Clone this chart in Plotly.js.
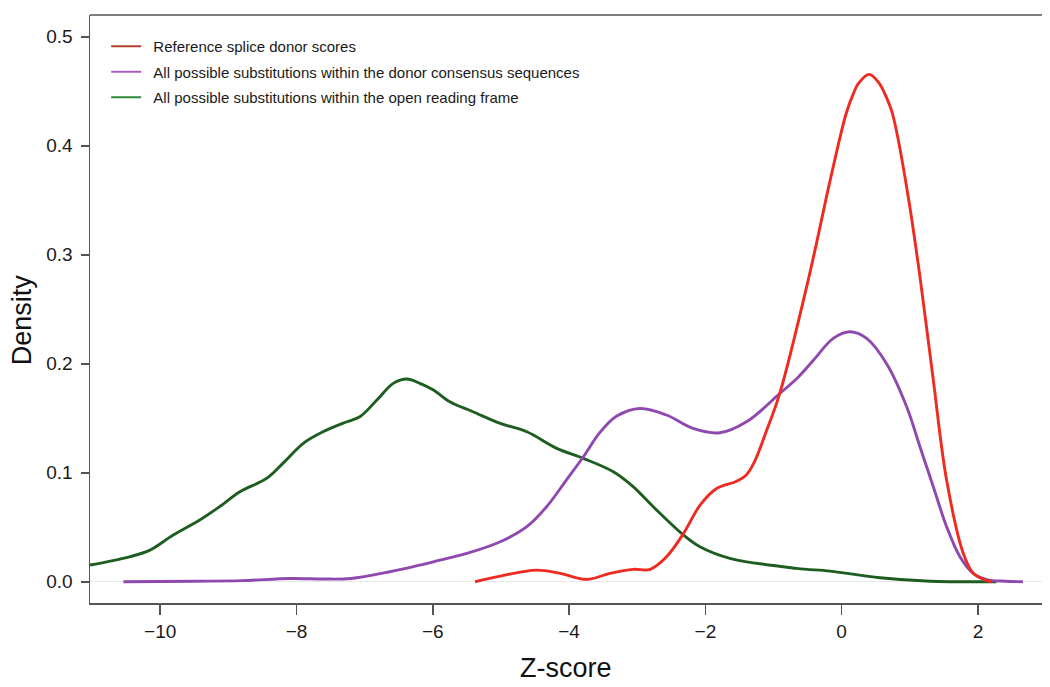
<!DOCTYPE html>
<html>
<head>
<meta charset="utf-8">
<script src="https://cdn.plot.ly/plotly-3.0.1.min.js"></script>
<style>html,body{margin:0;padding:0;background:#fff;}#chart{width:1050px;height:687px;}</style>
</head>
<body>
<div id="chart"></div>
<script>
// Series names
const seriesNames = [
  "Reference splice donor scores",
  "All possible substitutions within the donor consensus sequences",
  "All possible substitutions within the open reading frame"
];

// Reference splice donor scores (red)
const refX = [-5.38, -5.01, -4.48, -4.13, -3.74, -3.40, -3.06, -2.81, -2.57, -2.32, -2.08, -1.83, -1.55, -1.40, -1.28, -1.10, -0.908, -0.49, -0.17, 0.0, 0.073, 0.166, 0.25, 0.405, 0.55, 0.66, 0.734, 0.81, 0.98, 1.149, 1.345, 1.54, 1.785, 1.93, 2.13, 2.2];
const refY = [0.0, 0.0052, 0.0107, 0.0077, 0.0022, 0.0077, 0.0114, 0.0114, 0.0229, 0.0444, 0.070, 0.0857, 0.092, 0.098, 0.110, 0.139, 0.1728, 0.277, 0.368, 0.414, 0.431, 0.447, 0.4575, 0.4655, 0.4575, 0.444, 0.432, 0.412, 0.352, 0.28, 0.185, 0.0933, 0.026, 0.0077, 0.001, 0.0];

// All possible substitutions within the donor consensus sequences (purple)
const donorX = [-10.54, -9.5, -8.8, -8.10, -7.6, -7.2, -6.63, -6.19, -5.99, -5.50, -5.01, -4.62, -4.33, -4.04, -3.79, -3.547, -3.30, -2.96, -2.57, -2.18, -1.79, -1.39, -0.906, -0.65, -0.417, -0.123, 0.122, 0.367, 0.66, 0.954, 1.149, 1.345, 1.54, 1.736, 1.93, 2.13, 2.4, 2.66];
const donorY = [0.0, 0.0005, 0.001, 0.003, 0.0025, 0.003, 0.0092, 0.0153, 0.0183, 0.026, 0.0367, 0.0505, 0.0688, 0.0933, 0.1147, 0.137, 0.152, 0.159, 0.153, 0.1407, 0.1367, 0.147, 0.1728, 0.187, 0.203, 0.2233, 0.2294, 0.2233, 0.2, 0.1606, 0.1239, 0.0872, 0.0505, 0.0229, 0.0077, 0.002, 0.0005, 0.0];

// All possible substitutions within the open reading frame (green)
const orfX = [-11.03, -10.45, -10.15, -9.81, -9.42, -9.13, -8.83, -8.44, -8.20, -7.90, -7.61, -7.26, -7.07, -6.82, -6.58, -6.38, -6.19, -5.99, -5.75, -5.41, -5.01, -4.62, -4.18, -3.79, -3.35, -3.06, -2.765, -2.32, -2.08, -1.64, -0.66, -0.17, 0.56, 1.3, 2.27];
const orfY = [0.0153, 0.0229, 0.029, 0.0428, 0.0566, 0.0688, 0.0826, 0.0948, 0.1086, 0.127, 0.1376, 0.1468, 0.1514, 0.1667, 0.182, 0.186, 0.182, 0.1759, 0.1651, 0.156, 0.1453, 0.1376, 0.1224, 0.1132, 0.1009, 0.0872, 0.0688, 0.0428, 0.0321, 0.0215, 0.0123, 0.0098, 0.0037, 0.0005, 0.0];

// Tick labels
const xTicks = [-10, -8, -6, -4, -2, 0, 2];
const yTicks = [0.0, 0.1, 0.2, 0.3, 0.4, 0.5];

const curveColors = ['#ee2b20', '#8f48b0', '#1d5e20'];
const legendColors = ['#b3402f', '#a661c2', '#2f8a3a'];

const FONT = '"Liberation Sans", Arial, sans-serif';

const xs = [refX, donorX, orfX];
const ys = [refY, donorY, orfY];

const traces = [];
// drawing order: green, purple, red (red on top)
[2, 1, 0].forEach(i => {
  traces.push({
    x: xs[i], y: ys[i], type: 'scatter', mode: 'lines',
    line: {color: curveColors[i], width: 2.9, shape: 'spline', smoothing: 1.0},
    showlegend: false, hoverinfo: 'skip'
  });
});
// legend entries
[0, 1, 2].forEach(i => {
  traces.push({
    x: [null], y: [null], type: 'scatter', mode: 'lines',
    name: '\u00a0\u2009' + seriesNames[i], legendgroup: 'g' + i,
    line: {color: legendColors[i], width: 1.8},
    showlegend: true
  });
});

const layout = {
  width: 1050, height: 687,
  margin: {l: 90, r: 8, t: 15, b: 84},
  paper_bgcolor: '#ffffff', plot_bgcolor: '#ffffff',
  font: {family: FONT, color: '#1a1a1a', size: 19},
  showlegend: true,
  legend: {
    x: 0.017, y: 0.9745, xanchor: 'left', yanchor: 'top',
    bgcolor: 'rgba(0,0,0,0)', borderwidth: 0,
    font: {family: FONT, size: 15, color: '#1a1a1a'},
    tracegroupgap: 3, traceorder: 'grouped'
  },
  xaxis: {
    range: [-11.03, 2.94], tickvals: xTicks, ticktext: xTicks.map(v => v < 0 ? '\u2212' + Math.abs(v) : String(v)),
    showgrid: false, zeroline: false,
    showline: true, linecolor: '#555', linewidth: 1.5, mirror: false,
    ticks: 'outside', ticklen: 10, tickwidth: 1.5, tickcolor: '#555',
    tickfont: {family: FONT, size: 19, color: '#1a1a1a'},
    ticklabelstandoff: 1, fixedrange: true
  },
  yaxis: {
    range: [-0.0195, 0.52], tickvals: yTicks, ticktext: yTicks.map(v => v.toFixed(1)),
    showgrid: false, zeroline: true, zerolinecolor: '#e8e8e8', zerolinewidth: 1.2,
    showline: true, linecolor: '#555', linewidth: 1.5, mirror: false,
    ticks: 'outside', ticklen: 8, tickwidth: 1.5, tickcolor: '#555',
    tickfont: {family: FONT, size: 19, color: '#1a1a1a'},
    ticklabelstandoff: 4, fixedrange: true
  },
  shapes: [
    {type: 'line', xref: 'paper', yref: 'paper', x0: 0, x1: 1, y0: 1, y1: 1,
     line: {color: '#555', width: 1.5}}
  ],
  annotations: [
    {text: 'Z-score', xref: 'paper', yref: 'paper', x: 0.5, y: -0.1105, xanchor: 'center', yanchor: 'middle',
     showarrow: false, font: {family: FONT, size: 27, color: '#111'}},
    {text: 'Density', xref: 'paper', yref: 'paper', x: -0.0714, y: 0.481, xanchor: 'center', yanchor: 'middle',
     textangle: -90, showarrow: false, font: {family: FONT, size: 27, color: '#111'}}
  ]
};

Plotly.newPlot('chart', traces, layout, {displayModeBar: false, staticPlot: true});
</script>
</body>
</html>
